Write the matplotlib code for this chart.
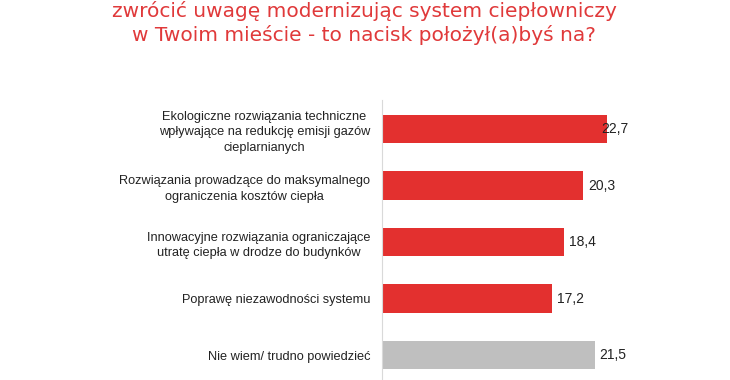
import matplotlib
matplotlib.use("Agg")
import matplotlib.pyplot as plt

categories = [
    "Ekologiczne rozwiązania techniczne\nwpływające na redukcję emisji gazów\ncieplarnianych",
    "Rozwiązania prowadzące do maksymalnego\nograniczenia kosztów ciepła",
    "Innowacyjne rozwiązania ograniczające\nutratę ciepła w drodze do budynków",
    "Poprawę niezawodności systemu",
    "Nie wiem/ trudno powiedzieć",
]
values = [22.7, 20.3, 18.4, 17.2, 21.5]
value_labels = ["22,7", "20,3", "18,4", "17,2", "21,5"]

RED = "#e3302f"
GRAY = "#bfbfbf"
colors = [RED, RED, RED, RED, GRAY]

fig = plt.figure(figsize=(7.3, 3.8), dpi=100)
W, H = 730, 380
# axes: left edge at the vertical axis line, from y=100px down to the bottom
ax = fig.add_axes([382 / W, 0, (722 - 382) / W, (380 - 100) / H])

y = list(range(len(values)))
ax.barh(y, values, height=0.5, color=colors)
ax.set_ylim(4.44, -0.513)
ax.set_xlim(0, 340 / 9.9)

for i, (v, lab) in enumerate(zip(values, value_labels)):
    off = -3.6 if i == 0 else 3.5
    ax.annotate(lab, (v, i), xytext=(off, 0), textcoords="offset points",
                va="center", ha="left", fontsize=10, color="#222222",
                family="Liberation Sans")

ax.set_yticks(y)
ax.set_yticklabels(categories, fontsize=9.2, family="Liberation Sans",
                   color="#222222", ha="right", multialignment="center",
                   linespacing=1.4)
ax.tick_params(axis="y", length=0, pad=8.5)
ax.set_xticks([])
for s in ["top", "right", "bottom"]:
    ax.spines[s].set_visible(False)
ax.spines["left"].set_color("#d9d9d9")
ax.spines["left"].set_linewidth(0.8)

title_kw = dict(ha="center", va="baseline", fontsize=14.5, color="#e0393a",
                family="DejaVu Sans")
fig.text(364 / W, 1 - 17 / H, "zwrócić uwagę modernizując system ciepłowniczy", **title_kw)
fig.text(364 / W, 1 - 41 / H, "w Twoim mieście - to nacisk położył(a)byś na?", **title_kw)

fig.savefig("out.png", dpi=100, facecolor="white")
